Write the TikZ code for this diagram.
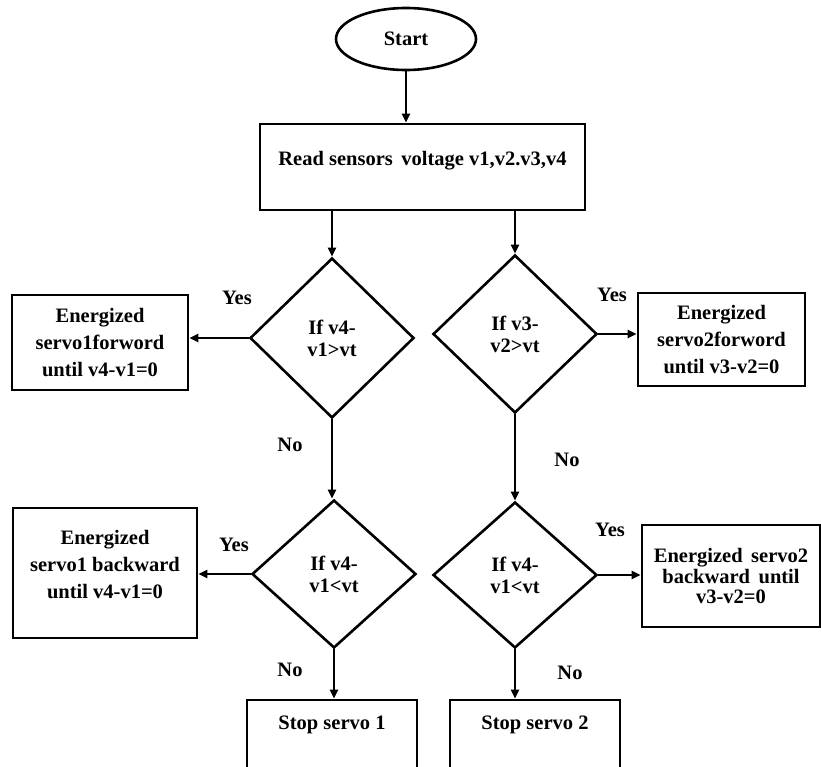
\documentclass[tikz,border=0pt]{standalone}
\usepackage{fontspec}
\setmainfont{Liberation Serif}
\usetikzlibrary{shapes.geometric,arrows.meta}
\begin{document}
\begin{tikzpicture}[x=1pt,y=-1pt,
  txt/.style={font=\bfseries\fontsize{20.5}{27}\selectfont,align=center},
  box/.style={draw,line width=2.6pt,inner sep=0pt},
  dec/.style={draw,diamond,line width=2.6pt,inner sep=0pt,font=\bfseries\fontsize{20.5}{22}\selectfont,align=center},
  term/.style={draw,ellipse,line width=2.6pt,inner sep=0pt,font=\bfseries\fontsize{20.5}{22}\selectfont},
  arr/.style={line width=2.6pt,-{Triangle[length=9pt,width=8pt]}},
  lbl/.style={font=\bfseries\fontsize{20.5}{22}\selectfont}]
\useasboundingbox (0,0) rectangle (821,766);
\fill[white] (0,0) rectangle (821,766);
\begin{scope}
\clip (0,0) rectangle (821,766);
% nodes
\node[term,minimum width=140,minimum height=62] (start) at (406,39) {Start};
\node[box,minimum width=325,minimum height=86,
  label={[txt,yshift=6pt]center:Read sensors\, voltage v1,v2.v3,v4}] (read) at (422.5,167) {};
\node[dec,minimum width=164,minimum height=160] (d1) at (332,338) {If v4-\\v1>vt};
\node[dec,minimum width=164,minimum height=158] (d2) at (515,334) {If v3-\\v2>vt};
\node[dec,minimum width=164,minimum height=148] (d3) at (334,574) {If v4-\\v1<vt};
\node[dec,minimum width=164,minimum height=146] (d4) at (515,575) {If v4-\\v1<vt};
\node[box,txt,minimum width=176,minimum height=95] (b1) at (100,342.5) {Energized\\servo1forword\\until v4-v1=0};
\node[box,txt,minimum width=167,minimum height=93] (b2) at (721.5,339.5) {Energized\\servo2forword\\until v3-v2=0};
\node[box,minimum width=184,minimum height=130,
  label={[txt,yshift=8pt]center:Energized\\servo1 backward\\until v4-v1=0}] (b3) at (105,573) {};
\node[box,minimum width=178,minimum height=102,
  label={[txt,font=\bfseries\fontsize{20.5}{20.5}\selectfont]center:Energized\, servo2\\backward\, until\\v3-v2=0}] (b4) at (731,576) {};
\node[box,minimum width=170,minimum height=90,
  label={[txt,yshift=20pt]center:Stop servo 1}] (s1) at (332,745) {};
\node[box,minimum width=170,minimum height=90,
  label={[txt,yshift=20pt]center:Stop servo 2}] (s2) at (535,745) {};
% labels
\node[lbl] (y1) at (237,298) {Yes};
\node[lbl] (n1) at (290,445) {No};
\node[lbl] (y2) at (612,295) {Yes};
\node[lbl] (n2) at (567,460) {No};
\node[lbl] (y3) at (234,545) {Yes};
\node[lbl] (n3) at (290,670) {No};
\node[lbl] (y4) at (610,530) {Yes};
\node[lbl] (n4) at (570,673) {No};
% connectors
\draw[arr] (start) -- (read.north -| start.south);
\draw[arr] (read.south -| d1.north) -- (d1.north);
\draw[arr] (read.south -| d2.north) -- (d2.north);
\draw[arr] (d1.west) -- (b1.east |- d1.west);
\draw[arr] (d2.east) -- (b2.west |- d2.east);
\draw[arr] (d1.south) -- (d3.north -| d1.south);
\draw[arr] (d2.south) -- (d4.north);
\draw[arr] (d3.west) -- (b3.east |- d3.west);
\draw[arr] (d4.east) -- (b4.west |- d4.east);
\draw[arr] (d3.south) -- (s1.north -| d3.south);
\draw[arr] (d4.south) -- (s2.north -| d4.south);
\end{scope}
\end{tikzpicture}
\end{document}
